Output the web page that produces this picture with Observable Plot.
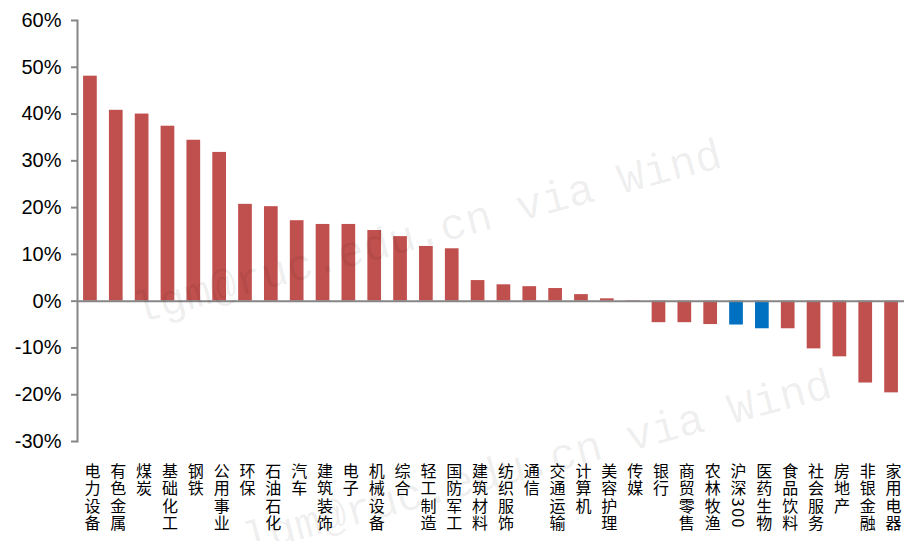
<!DOCTYPE html>
<html>
<head>
<meta charset="utf-8">
<script src="https://cdn.jsdelivr.net/npm/d3@7"></script>
<script src="https://cdn.jsdelivr.net/npm/@observablehq/plot@0.6"></script>
<style>
  body { margin: 0; background: #fff; }
  #wrap { position: relative; width: 905px; height: 541px; overflow: hidden; background: #fff; }
  .wm { position: absolute; left: 0; top: 0; font-family: "Liberation Mono", "DejaVu Sans Mono", monospace;
        font-size: 44px; line-height: 1.15; color: rgba(0,0,0,0.07); white-space: nowrap; transform-origin: 0 0; pointer-events: none; }
  g[aria-label="x-axis tick label"] text {
    writing-mode: vertical-rl;
    text-orientation: mixed;
    text-anchor: start;
    letter-spacing: 1.5px;
  }
</style>
</head>
<body>
<div id="wrap"></div>
<script>
const categories = ["电力设备","有色金属","煤炭","基础化工","钢铁","公用事业","环保","石油石化","汽车","建筑装饰",
  "电子","机械设备","综合","轻工制造","国防军工","建筑材料","纺织服饰","通信","交通运输","计算机",
  "美容护理","传媒","银行","商贸零售","农林牧渔","沪深300","医药生物","食品饮料","社会服务","房地产",
  "非银金融","家用电器"];
const values = [48.1, 40.8, 40.0, 37.4, 34.4, 31.8, 20.7, 20.2, 17.2, 16.4,
  16.4, 15.1, 13.8, 11.7, 11.2, 4.4, 3.5, 3.1, 2.7, 1.4,
  0.5, 0.1, -4.6, -4.6, -5.0, -5.1, -5.9, -5.9, -10.2, -11.9,
  -17.5, -19.6];
const blueCategories = ["沪深300", "医药生物"];
const yTicks = [-30, -20, -10, 0, 10, 20, 30, 40, 50, 60];
const watermarkText = "lgm@ruc.edu.cn via Wind";

const RED = "#C0504D", BLUE = "#0070C0", GRAY = "#868686";

const data = categories.map((c, i) => ({category: c, value: values[i], blue: blueCategories.includes(c)}));

const chart = Plot.plot({
  width: 905,
  height: 541,
  marginLeft: 77,
  marginRight: 1,
  marginTop: 20,
  marginBottom: 100,
  style: {background: "transparent", fontFamily: "'Liberation Sans', Arial, sans-serif", color: "black"},
  x: {domain: categories, paddingInner: 0.47, paddingOuter: 0.235, round: false, label: null},
  y: {domain: [-30, 60], label: null},
  marks: [
    Plot.barY(data, {x: "category", y: "value", fill: d => d.blue ? BLUE : RED}),
    Plot.ruleY([0], {stroke: GRAY, strokeWidth: 2}),
    Plot.frame({anchor: "left", stroke: GRAY, strokeWidth: 2}),
    Plot.axisY({ticks: yTicks, tickFormat: d => d + "%", tickSize: 6, tickPadding: 10,
      stroke: GRAY, strokeWidth: 2, fill: "black", fontSize: 20, label: null,
      fontFamily: "'Liberation Sans', Arial, sans-serif"}),
    Plot.axisX({tickSize: 0, tickPadding: 10, tickFormat: d => d, fontSize: 16, dx: 2,
      fill: "black", label: null, fontFamily: "'Noto Sans CJK SC', sans-serif"})
  ]
});

const wrap = document.getElementById("wrap");
wrap.appendChild(chart);
[{l: 128, t: 288, r: -15}, {l: 238, t: 518, r: -15}].forEach(w => {
  const d = document.createElement("div");
  d.className = "wm";
  d.textContent = watermarkText;
  d.style.left = w.l + "px";
  d.style.top = w.t + "px";
  d.style.transform = `rotate(${w.r}deg)`;
  wrap.appendChild(d);
});
</script>
</body>
</html>
